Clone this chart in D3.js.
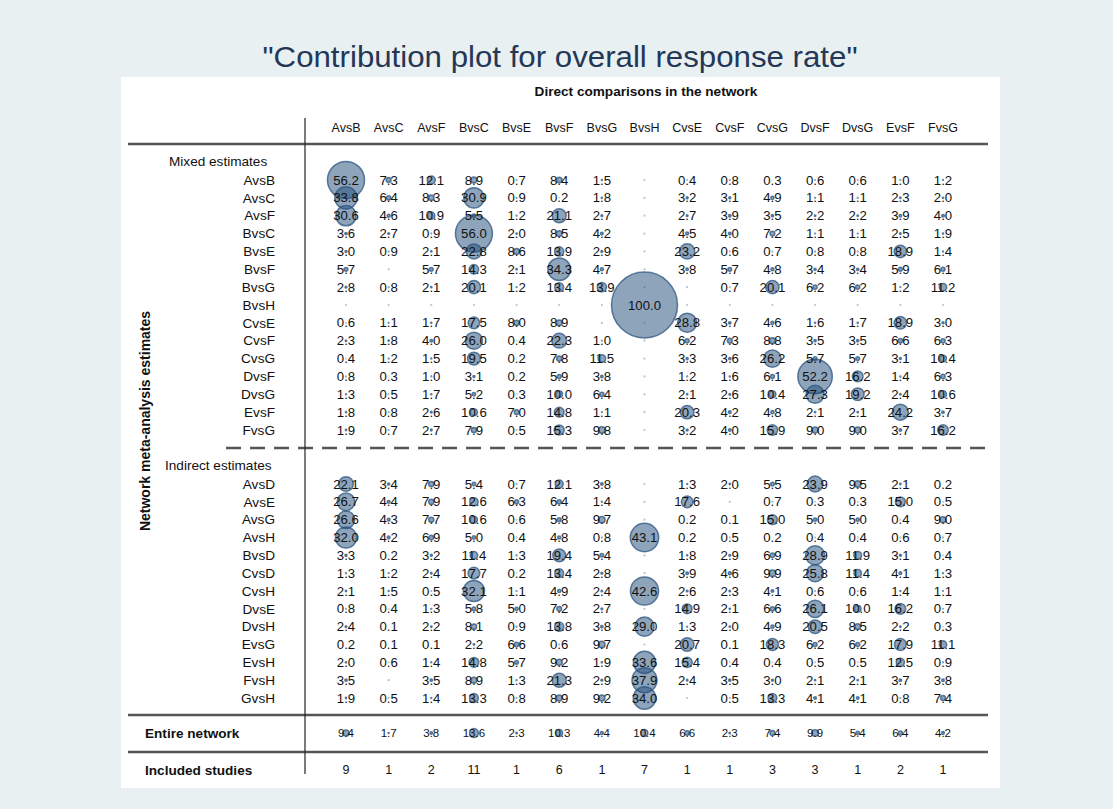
<!DOCTYPE html>
<meta charset="utf-8">
<body>
  <svg id="chart"></svg>
</body>

<style>
body { margin: 0; background: #e9f0f2; }
svg { display: block; font-family: "Liberation Sans", Arial, sans-serif; }
.num { font-size: 12.5px; fill: #111; text-anchor: middle; }
.val { font-size: 13.2px; }
.lbl { font-size: 13.6px; fill: #111; }
.bold { font-weight: bold; }
.bubble { fill: #1d4a78; fill-opacity: 0.5; stroke: #2d5580; stroke-opacity: 0.75; stroke-width: 1.5; }
.missing { fill: #b4c2d0; }
</style>

<script src="https://d3js.org/d3.v7.min.js"></script>
<script>

// direct comparisons (columns)
var columns = ["AvsB","AvsC","AvsF","BvsC","BvsE","BvsF","BvsG","BvsH","CvsE","CvsF","CvsG","DvsF","DvsG","EvsF","FvsG"];

// mixed estimates (rows), null = "."
var mixedRows = ["AvsB","AvsC","AvsF","BvsC","BvsE","BvsF","BvsG","BvsH","CvsE","CvsF","CvsG","DvsF","DvsG","EvsF","FvsG"];
var mixedValues = [
  [56.2, 7.3, 12.1, 8.9, 0.7, 8.4, 1.5, null, 0.4, 0.8, 0.3, 0.6, 0.6, 1.0, 1.2],
  [33.8, 6.4, 8.3, 30.9, 0.9, 0.2, 1.8, null, 3.2, 3.1, 4.9, 1.1, 1.1, 2.3, 2.0],
  [30.6, 4.6, 10.9, 5.5, 1.2, 21.1, 2.7, null, 2.7, 3.9, 3.5, 2.2, 2.2, 3.9, 4.0],
  [3.6, 2.7, 0.9, 56.0, 2.0, 8.5, 4.2, null, 4.5, 4.0, 7.2, 1.1, 1.1, 2.5, 1.9],
  [3.0, 0.9, 2.1, 22.8, 8.6, 13.9, 2.9, null, 23.2, 0.6, 0.7, 0.8, 0.8, 18.9, 1.4],
  [5.7, null, 5.7, 14.3, 2.1, 34.3, 4.7, null, 3.8, 5.7, 4.8, 3.4, 3.4, 5.9, 6.1],
  [2.8, 0.8, 2.1, 20.1, 1.2, 13.4, 13.9, null, null, 0.7, 20.1, 6.2, 6.2, 1.2, 11.2],
  [null, null, null, null, null, null, null, 100.0, null, null, null, null, null, null, null],
  [0.6, 1.1, 1.7, 17.5, 8.0, 8.9, null, null, 28.8, 3.7, 4.6, 1.6, 1.7, 18.9, 3.0],
  [2.3, 1.8, 4.0, 26.0, 0.4, 22.3, 1.0, null, 6.2, 7.3, 8.8, 3.5, 3.5, 6.6, 6.3],
  [0.4, 1.2, 1.5, 19.5, 0.2, 7.8, 11.5, null, 3.3, 3.6, 26.2, 5.7, 5.7, 3.1, 10.4],
  [0.8, 0.3, 1.0, 3.1, 0.2, 5.9, 3.8, null, 1.2, 1.6, 6.1, 52.2, 16.2, 1.4, 6.3],
  [1.3, 0.5, 1.7, 5.2, 0.3, 10.0, 6.4, null, 2.1, 2.6, 10.4, 27.3, 19.2, 2.4, 10.6],
  [1.8, 0.8, 2.6, 10.6, 7.0, 14.8, 1.1, null, 20.3, 4.2, 4.8, 2.1, 2.1, 24.2, 3.7],
  [1.9, 0.7, 2.7, 7.9, 0.5, 15.3, 9.8, null, 3.2, 4.0, 15.9, 9.0, 9.0, 3.7, 16.2]
];

// indirect estimates (rows)
var indirectRows = ["AvsD","AvsE","AvsG","AvsH","BvsD","CvsD","CvsH","DvsE","DvsH","EvsG","EvsH","FvsH","GvsH"];
var indirectValues = [
  [22.1, 3.4, 7.9, 5.4, 0.7, 12.1, 3.8, null, 1.3, 2.0, 5.5, 23.9, 9.5, 2.1, 0.2],
  [26.7, 4.4, 7.9, 12.6, 6.3, 6.4, 1.4, null, 17.6, null, 0.7, 0.3, 0.3, 15.0, 0.5],
  [26.6, 4.3, 7.7, 10.6, 0.6, 5.8, 9.7, null, 0.2, 0.1, 15.0, 5.0, 5.0, 0.4, 9.0],
  [32.0, 4.2, 6.9, 5.0, 0.4, 4.8, 0.8, 43.1, 0.2, 0.5, 0.2, 0.4, 0.4, 0.6, 0.7],
  [3.3, 0.2, 3.2, 11.4, 1.3, 19.4, 5.4, null, 1.8, 2.9, 6.9, 28.9, 11.9, 3.1, 0.4],
  [1.3, 1.2, 2.4, 17.7, 0.2, 13.4, 2.8, null, 3.9, 4.6, 9.9, 25.8, 11.4, 4.1, 1.3],
  [2.1, 1.5, 0.5, 32.1, 1.1, 4.9, 2.4, 42.6, 2.6, 2.3, 4.1, 0.6, 0.6, 1.4, 1.1],
  [0.8, 0.4, 1.3, 5.8, 5.0, 7.2, 2.7, null, 14.9, 2.1, 6.6, 26.1, 10.0, 16.2, 0.7],
  [2.4, 0.1, 2.2, 8.1, 0.9, 13.8, 3.8, 29.0, 1.3, 2.0, 4.9, 20.5, 8.5, 2.2, 0.3],
  [0.2, 0.1, 0.1, 2.2, 6.6, 0.6, 9.7, null, 20.7, 0.1, 18.3, 6.2, 6.2, 17.9, 11.1],
  [2.0, 0.6, 1.4, 14.8, 5.7, 9.2, 1.9, 33.6, 15.4, 0.4, 0.4, 0.5, 0.5, 12.5, 0.9],
  [3.5, null, 3.5, 8.9, 1.3, 21.3, 2.9, 37.9, 2.4, 3.5, 3.0, 2.1, 2.1, 3.7, 3.8],
  [1.9, 0.5, 1.4, 13.3, 0.8, 8.9, 9.2, 34.0, null, 0.5, 13.3, 4.1, 4.1, 0.8, 7.4]
];

var entireNetwork = [9.4, 1.7, 3.8, 13.6, 2.3, 10.3, 4.4, 10.4, 6.6, 2.3, 7.4, 9.9, 5.4, 6.4, 4.2];
var includedStudies = [9, 1, 2, 11, 1, 6, 1, 7, 1, 1, 3, 3, 1, 2, 1];

var width = 1113, height = 809;
var svg = d3.select("#chart").attr("width", width).attr("height", height);

// white panel
svg.append("rect").attr("x", 121).attr("y", 77).attr("width", 879).attr("height", 711).attr("fill", "#fff");

// title
svg.append("text")
    .attr("x", 560).attr("y", 67)
    .attr("text-anchor", "middle")
    .attr("font-size", 30)
    .attr("fill", "#243757")
    .attr("textLength", 595).attr("lengthAdjust", "spacingAndGlyphs")
    .text("\"Contribution plot for overall response rate\"");

// scales
var x = d3.scalePoint().domain(columns).range([346, 943]);
var yMixed = d3.scalePoint().domain(mixedRows).range([180, 430]);
var yIndirect = d3.scalePoint().domain(indirectRows).range([484, 698]);
var r = d3.scaleLinear().domain([0, 100]).range([0, 33]);
var fmt = d3.format(".1f");

// header
svg.append("text").attr("class", "lbl bold")
    .attr("x", 646).attr("y", 96).attr("text-anchor", "middle")
    .style("font-size", "13.6px").text("Direct comparisons in the network");

svg.append("g").selectAll("text")
    .data(columns).enter().append("text")
    .attr("class", "num")
    .attr("x", d => x(d)).attr("y", 132)
    .text(d => d);

// lines
function hline(y) {
  svg.append("line").attr("x1", 128).attr("x2", 988).attr("y1", y).attr("y2", y)
      .attr("stroke", "#555").attr("stroke-width", 2.5);
}
hline(144);
hline(715);
hline(752);

svg.append("line").attr("x1", 226).attr("x2", 988).attr("y1", 448).attr("y2", 448)
    .attr("stroke", "#555").attr("stroke-width", 2.5).attr("stroke-dasharray", "15,9");

svg.append("line").attr("x1", 305).attr("x2", 305).attr("y1", 118).attr("y2", 774)
    .attr("stroke", "#222").attr("stroke-width", 1.2);

// y axis title
svg.append("text").attr("class", "lbl bold")
    .attr("transform", "translate(150,421) rotate(-90)")
    .attr("text-anchor", "middle")
    .style("font-size", "14px")
    .text("Network meta-analysis estimates");

// section labels
svg.append("text").attr("class", "lbl").attr("x", 169).attr("y", 166).text("Mixed estimates");
svg.append("text").attr("class", "lbl").attr("x", 165).attr("y", 470).text("Indirect estimates");

function drawBlock(rows, values, y) {
  var g = svg.append("g");
  g.selectAll("text.row").data(rows).enter().append("text")
      .attr("class", "lbl row")
      .attr("x", 275).attr("y", d => y(d)).attr("dy", "0.35em")
      .attr("text-anchor", "end")
      .text(d => d);

  var cells = [];
  values.forEach((vals, i) => vals.forEach((v, j) => cells.push({row: rows[i], col: columns[j], v: v})));

  g.selectAll("circle.missing").data(cells.filter(c => c.v === null)).enter().append("circle")
      .attr("class", "missing")
      .attr("cx", c => x(c.col)).attr("cy", c => y(c.row)).attr("r", 1.1);

  g.selectAll("circle.bubble").data(cells.filter(c => c.v !== null)).enter().append("circle")
      .attr("class", "bubble")
      .attr("cx", c => x(c.col)).attr("cy", c => y(c.row)).attr("r", c => r(c.v))
      .attr("stroke-width", c => c.v < 5 ? 0 : 1.5);

  g.selectAll("text.num").data(cells.filter(c => c.v !== null)).enter().append("text")
      .attr("class", "num val")
      .attr("x", c => x(c.col)).attr("y", c => y(c.row)).attr("dy", "0.35em")
      .text(c => fmt(c.v));
}

drawBlock(mixedRows, mixedValues, yMixed);
drawBlock(indirectRows, indirectValues, yIndirect);

// entire network
svg.append("text").attr("class", "lbl bold").attr("x", 145).attr("y", 733).attr("dy", "0.35em").text("Entire network");
var gE = svg.append("g");
gE.selectAll("circle").data(entireNetwork).enter().append("circle")
    .attr("class", "bubble")
    .attr("cx", (d, i) => x(columns[i])).attr("cy", 733).attr("r", d => r(d))
    .attr("stroke-width", 0);
gE.selectAll("text").data(entireNetwork).enter().append("text")
    .attr("class", "num")
    .style("font-size", "11.5px")
    .attr("x", (d, i) => x(columns[i])).attr("y", 733).attr("dy", "0.35em")
    .text(d => fmt(d));

// included studies
svg.append("text").attr("class", "lbl bold").attr("x", 145).attr("y", 770).attr("dy", "0.35em").text("Included studies");
svg.append("g").selectAll("text").data(includedStudies).enter().append("text")
    .attr("class", "num")
    .attr("x", (d, i) => x(columns[i])).attr("y", 770).attr("dy", "0.35em")
    .text(d => d);

</script>
